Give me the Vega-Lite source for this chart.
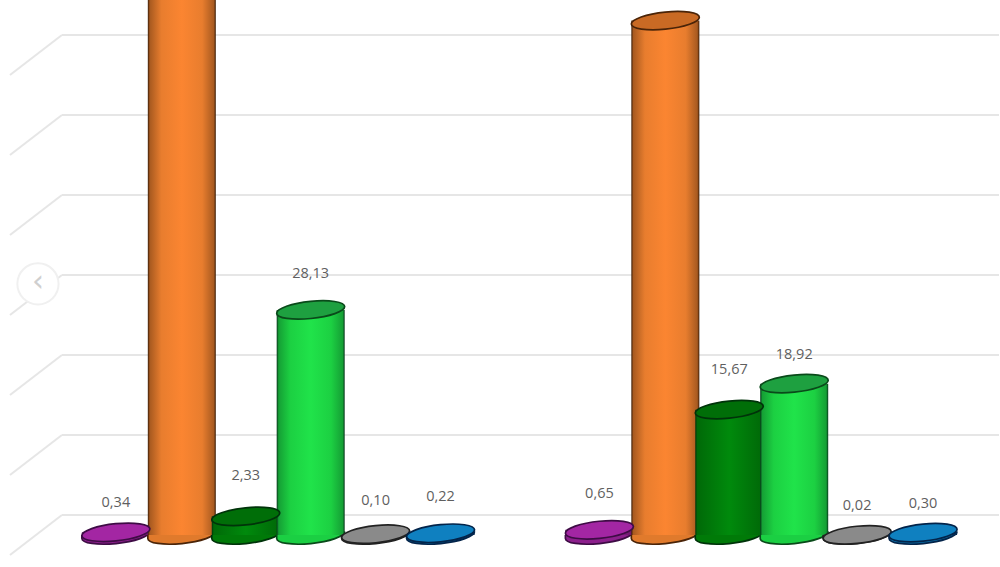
{"$schema":"https://vega.github.io/schema/vega-lite/v6.json","width":1000,"height":567,"autosize":{"type":"fit","contains":"padding"},"padding":0,"background":"#ffffff","view":{"stroke":null},
"datasets":{"bars":[
{"panel":"left","series":"purple","pos":116,"value":0.34,"label":"0,34"},
{"panel":"left","series":"orange","pos":182,"value":72,"label":""},
{"panel":"left","series":"darkgreen","pos":246,"value":2.33,"label":"2,33"},
{"panel":"left","series":"green","pos":311,"value":28.13,"label":"28,13"},
{"panel":"left","series":"gray","pos":376,"value":0.10,"label":"0,10"},
{"panel":"left","series":"blue","pos":441,"value":0.22,"label":"0,22"},
{"panel":"right","series":"purple","pos":600,"value":0.65,"label":"0,65"},
{"panel":"right","series":"orange","pos":666,"value":64.3,"label":""},
{"panel":"right","series":"darkgreen","pos":730,"value":15.67,"label":"15,67"},
{"panel":"right","series":"green","pos":795,"value":18.92,"label":"18,92"},
{"panel":"right","series":"gray","pos":858,"value":0.02,"label":"0,02"},
{"panel":"right","series":"blue","pos":924,"value":0.30,"label":"0,30"}],
"grid":[{"level":62.5,"floor":57.5},{"level":52.5,"floor":47.5},{"level":42.5,"floor":37.5},{"level":32.5,"floor":27.5},{"level":22.5,"floor":17.5},{"level":12.5,"floor":7.5},{"level":2.5,"floor":-2.5}]},
"layer":[
{"data":{"name":"grid"},"mark":{"type":"rule","color":"#e6e6e6","strokeWidth":2},"encoding":{"x":{"datum":62,"type":"quantitative","scale":{"domain":[0,1000],"nice":false,"zero":false,"padding":0},"axis":null},"x2":{"datum":1000},"y":{"field":"level","type":"quantitative","scale":{"domain":[-4,66.875],"nice":false,"zero":false},"axis":null}}},
{"data":{"name":"grid"},"mark":{"type":"rule","color":"#e6e6e6","strokeWidth":2},"encoding":{"x":{"datum":62,"type":"quantitative"},"x2":{"datum":10},"y":{"field":"level","type":"quantitative"},"y2":{"field":"floor"}}},
{"data":{"values":[{"nav":"previous","v":31.4}]},"mark":{"type":"point","shape":"circle","filled":true,"fill":"#ffffff","stroke":"#f0f0f0","strokeWidth":2,"size":1700,"opacity":1},"encoding":{"x":{"datum":38,"type":"quantitative"},"y":{"field":"v","type":"quantitative"}}},
{"data":{"values":[{"nav":"‹","v":31.4}]},"mark":{"type":"text","fontSize":30,"font":"DejaVu Sans","color":"#cfcfcf","dy":-2},"encoding":{"x":{"datum":38,"type":"quantitative"},"y":{"field":"v","type":"quantitative"},"text":{"field":"nav"}}},
{"data":{"name":"bars"},"mark":{"type":"point","shape":"M-1,0L-1,.1A1,.25,-6,0,0,1,-.1","filled":true,"size":4624,"strokeWidth":1.7,"opacity":1,"clip":true},"encoding":{"x":{"field":"pos","type":"quantitative"},"y":{"datum":0,"type":"quantitative"},
"fill":{"field":"series","type":"nominal","legend":null,"scale":{"domain":["purple","orange","darkgreen","green","gray","blue"],"range":["#8c1f8c","#e07a2c","#007a08","#1bcf43","#777777","#0c6fa8"]}},
"stroke":{"field":"series","type":"nominal","legend":null,"scale":{"domain":["purple","orange","darkgreen","green","gray","blue"],"range":["#3e0c45","#4a2408","#00330a","#0a4a1a","#222222","#03244a"]}}}},
{"data":{"name":"bars"},"transform":[{"filter":{"field":"series","equal":"purple"}}],"mark":{"type":"bar","size":68,"clip":true,"fill":{"gradient":"linear","x1":0,"y1":0,"x2":1,"y2":0,"stops":[{"offset":0,"color":"#3e0c45"},{"offset":0.03,"color":"#6e186e"},{"offset":0.5,"color":"#a326a3"},{"offset":0.97,"color":"#6e186e"},{"offset":1,"color":"#3e0c45"}]}},"encoding":{"x":{"field":"pos","type":"quantitative"},"y":{"field":"value","type":"quantitative"},"y2":{"datum":0}}},
{"data":{"name":"bars"},"transform":[{"filter":{"field":"series","equal":"orange"}}],"mark":{"type":"bar","size":68,"clip":true,"fill":{"gradient":"linear","x1":0,"y1":0,"x2":1,"y2":0,"stops":[{"offset":0,"color":"#3a1c06"},{"offset":0.03,"color":"#a85a20"},{"offset":0.2,"color":"#e87d2e"},{"offset":0.5,"color":"#fb8531"},{"offset":0.8,"color":"#e87d2e"},{"offset":0.97,"color":"#a85a20"},{"offset":1,"color":"#3a1c06"}]}},"encoding":{"x":{"field":"pos","type":"quantitative"},"y":{"field":"value","type":"quantitative"},"y2":{"datum":0}}},
{"data":{"name":"bars"},"transform":[{"filter":{"field":"series","equal":"darkgreen"}}],"mark":{"type":"bar","size":68,"clip":true,"fill":{"gradient":"linear","x1":0,"y1":0,"x2":1,"y2":0,"stops":[{"offset":0,"color":"#00330a"},{"offset":0.03,"color":"#006a08"},{"offset":0.5,"color":"#008a0c"},{"offset":0.97,"color":"#006a08"},{"offset":1,"color":"#00330a"}]}},"encoding":{"x":{"field":"pos","type":"quantitative"},"y":{"field":"value","type":"quantitative"},"y2":{"datum":0}}},
{"data":{"name":"bars"},"transform":[{"filter":{"field":"series","equal":"green"}}],"mark":{"type":"bar","size":68,"clip":true,"fill":{"gradient":"linear","x1":0,"y1":0,"x2":1,"y2":0,"stops":[{"offset":0,"color":"#07351a"},{"offset":0.03,"color":"#15a035"},{"offset":0.2,"color":"#1cd042"},{"offset":0.5,"color":"#20e34a"},{"offset":0.8,"color":"#1cd042"},{"offset":0.97,"color":"#15a035"},{"offset":1,"color":"#07351a"}]}},"encoding":{"x":{"field":"pos","type":"quantitative"},"y":{"field":"value","type":"quantitative"},"y2":{"datum":0}}},
{"data":{"name":"bars"},"transform":[{"filter":{"field":"series","equal":"gray"}}],"mark":{"type":"bar","size":68,"clip":true,"fill":{"gradient":"linear","x1":0,"y1":0,"x2":1,"y2":0,"stops":[{"offset":0,"color":"#222222"},{"offset":0.5,"color":"#8a8a8a"},{"offset":1,"color":"#222222"}]}},"encoding":{"x":{"field":"pos","type":"quantitative"},"y":{"field":"value","type":"quantitative"},"y2":{"datum":0}}},
{"data":{"name":"bars"},"transform":[{"filter":{"field":"series","equal":"blue"}}],"mark":{"type":"bar","size":68,"clip":true,"fill":{"gradient":"linear","x1":0,"y1":0,"x2":1,"y2":0,"stops":[{"offset":0,"color":"#03244a"},{"offset":0.5,"color":"#0f80c0"},{"offset":1,"color":"#03244a"}]}},"encoding":{"x":{"field":"pos","type":"quantitative"},"y":{"field":"value","type":"quantitative"},"y2":{"datum":0}}},
{"data":{"name":"bars"},"mark":{"type":"point","shape":"M-1,.1A1,.25,-6,1,1,1,-.1A1,.25,-6,1,1,-1,.1Z","filled":true,"size":4624,"strokeWidth":1.7,"opacity":1,"clip":true},"encoding":{"x":{"field":"pos","type":"quantitative"},"y":{"field":"value","type":"quantitative"},
"fill":{"field":"series","type":"nominal","legend":null,"scale":{"domain":["purple","orange","darkgreen","green","gray","blue"],"range":["#a326a3","#c96a24","#006e08","#1ea040","#8a8a8a","#0f80c0"]}},
"stroke":{"field":"series","type":"nominal","legend":null,"scale":{"domain":["purple","orange","darkgreen","green","gray","blue"],"range":["#3e0c45","#4a2408","#00330a","#0a4a1a","#222222","#03244a"]}}}},
{"data":{"name":"bars"},"transform":[{"filter":{"field":"label","oneOf":["18,92","0,02","0,30","0,34"]}}],"mark":{"type":"text","font":"Open Sans","fontSize":14.5,"color":"#5f5f5f","dy":-29},"encoding":{"x":{"field":"pos","type":"quantitative"},"y":{"field":"value","type":"quantitative"},"text":{"field":"label"}}},
{"data":{"name":"bars"},"transform":[{"filter":{"field":"label","oneOf":["0,10"]}}],"mark":{"type":"text","font":"Open Sans","fontSize":14.5,"color":"#5f5f5f","dy":-33},"encoding":{"x":{"field":"pos","type":"quantitative"},"y":{"field":"value","type":"quantitative"},"text":{"field":"label"}}},
{"data":{"name":"bars"},"transform":[{"filter":{"field":"label","oneOf":["28,13","0,22","0,65"]}}],"mark":{"type":"text","font":"Open Sans","fontSize":14.5,"color":"#5f5f5f","dy":-36},"encoding":{"x":{"field":"pos","type":"quantitative"},"y":{"field":"value","type":"quantitative"},"text":{"field":"label"}}},
{"data":{"name":"bars"},"transform":[{"filter":{"field":"label","oneOf":["2,33","15,67"]}}],"mark":{"type":"text","font":"Open Sans","fontSize":14.5,"color":"#5f5f5f","dy":-40},"encoding":{"x":{"field":"pos","type":"quantitative"},"y":{"field":"value","type":"quantitative"},"text":{"field":"label"}}}
],
"resolve":{"scale":{"fill":"independent"}}}
